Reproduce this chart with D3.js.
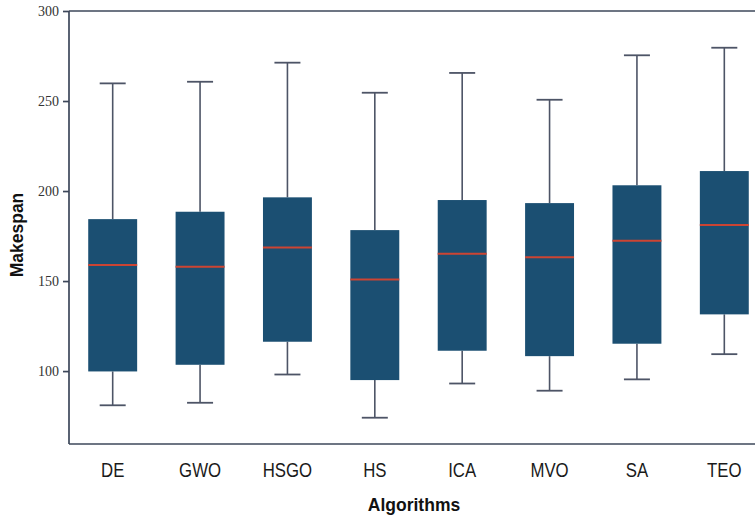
<!DOCTYPE html>
<html>
<head>
<meta charset="utf-8">
<script src="https://cdn.jsdelivr.net/npm/d3@7"></script>
<style>
  html, body { margin: 0; padding: 0; background: #ffffff; overflow: hidden; }
  svg { display: block; }
</style>
</head>
<body>
<svg id="chart" width="755" height="519"></svg>
<script>
// Makespan distribution per algorithm (box plot statistics)
const algorithms = ["DE", "GWO", "HSGO", "HS", "ICA", "MVO", "SA", "TEO"];
const whiskerLow  = [81.0, 82.4, 98.1, 74.1, 93.1, 89.1, 95.4, 109.4];
const q1          = [99.8, 103.5, 116.3, 95.0, 111.3, 108.3, 115.2, 131.5];
const median      = [158.9, 157.9, 168.7, 150.9, 165.2, 163.2, 172.4, 181.1];
const q3          = [184.4, 188.5, 196.5, 178.3, 195.0, 193.3, 203.2, 211.1];
const whiskerHigh = [259.8, 260.7, 271.3, 254.6, 265.6, 250.7, 275.4, 279.6];
const yTicks = [100, 150, 200, 250, 300];

const svg = d3.select("#chart");
const plotLeft = 69, plotTop = 11, plotBottom = 444, plotRight = 768;

const x = d3.scaleBand().domain(algorithms).range([plotLeft, plotRight]).paddingInner(0.44).paddingOuter(0.22);
const y = d3.scaleLinear().domain([59.5, 300]).range([plotBottom, plotTop]);

const stats = algorithms.map((a, i) => ({
  name: a, lo: whiskerLow[i], q1: q1[i], med: median[i], q3: q3[i], hi: whiskerHigh[i]
}));

const axisColor = "#3d475a";
const whiskerColor = "#4d5466";
const boxColor = "#1b4f72";
const medianColor = "#cc4433";
const capHalf = 13;

const g = svg.append("g");
const boxes = g.selectAll("g.box").data(stats).join("g").attr("class", "box");
const cx = d => x(d.name) + x.bandwidth() / 2;

// whiskers
boxes.append("line")
  .attr("x1", cx).attr("x2", cx)
  .attr("y1", d => y(d.hi)).attr("y2", d => y(d.q3))
  .attr("stroke", whiskerColor).attr("stroke-width", 1.6);
boxes.append("line")
  .attr("x1", cx).attr("x2", cx)
  .attr("y1", d => y(d.q1)).attr("y2", d => y(d.lo))
  .attr("stroke", whiskerColor).attr("stroke-width", 1.6);
// caps
["hi", "lo"].forEach(k => {
  boxes.append("line")
    .attr("x1", d => cx(d) - capHalf)
    .attr("x2", d => cx(d) + capHalf)
    .attr("y1", d => y(d[k])).attr("y2", d => y(d[k]))
    .attr("stroke", whiskerColor).attr("stroke-width", 1.8);
});
// boxes
boxes.append("rect")
  .attr("x", d => x(d.name)).attr("width", x.bandwidth())
  .attr("y", d => y(d.q3)).attr("height", d => y(d.q1) - y(d.q3))
  .attr("fill", boxColor);
// medians
boxes.append("line")
  .attr("x1", d => x(d.name)).attr("x2", d => x(d.name) + x.bandwidth())
  .attr("y1", d => y(d.med)).attr("y2", d => y(d.med))
  .attr("stroke", medianColor).attr("stroke-width", 2);

// frame: top and bottom spines
g.append("line").attr("x1", plotLeft).attr("x2", plotRight).attr("y1", plotTop).attr("y2", plotTop)
  .attr("stroke", axisColor).attr("stroke-width", 1.7);
g.append("line").attr("x1", plotLeft).attr("x2", plotRight).attr("y1", plotBottom).attr("y2", plotBottom)
  .attr("stroke", axisColor).attr("stroke-width", 1.7);

// y axis
const yAxis = svg.append("g").attr("transform", `translate(${plotLeft},0)`)
  .call(d3.axisLeft(y).tickValues(yTicks).tickSize(6).tickPadding(4));
yAxis.select(".domain").attr("stroke", axisColor).attr("stroke-width", 1.7)
  .attr("d", `M0,${plotTop}V${plotBottom}`);
yAxis.selectAll(".tick line").attr("stroke", axisColor).attr("stroke-width", 1.7);
yAxis.selectAll(".tick text")
  .attr("font-family", "'Liberation Serif', 'DejaVu Serif', serif")
  .attr("font-size", 14).attr("fill", "#333");

// x axis labels (condensed sans)
const xAxis = svg.append("g").attr("transform", `translate(0,${plotBottom})`)
  .call(d3.axisBottom(x).tickSize(0).tickPadding(0));
xAxis.select(".domain").remove();
xAxis.selectAll(".tick text")
  .attr("y", 33).attr("dy", null)
  .attr("transform", "scale(0.84,1)")
  .attr("font-family", "'Liberation Sans', Arial, sans-serif")
  .attr("font-size", 20).attr("fill", "#1a1a1a");

// axis titles
svg.append("text")
  .attr("x", 414).attr("y", 511)
  .attr("text-anchor", "middle")
  .attr("font-family", "'Liberation Sans', Arial, sans-serif")
  .attr("font-weight", "bold").attr("font-size", 17.5).attr("fill", "#111")
  .text("Algorithms");
svg.append("text")
  .attr("transform", "translate(23,235) rotate(-90)")
  .attr("text-anchor", "middle")
  .attr("font-family", "'Liberation Sans', Arial, sans-serif")
  .attr("font-weight", "bold").attr("font-size", 17.5).attr("fill", "#111")
  .text("Makespan");
</script>
</body>
</html>
